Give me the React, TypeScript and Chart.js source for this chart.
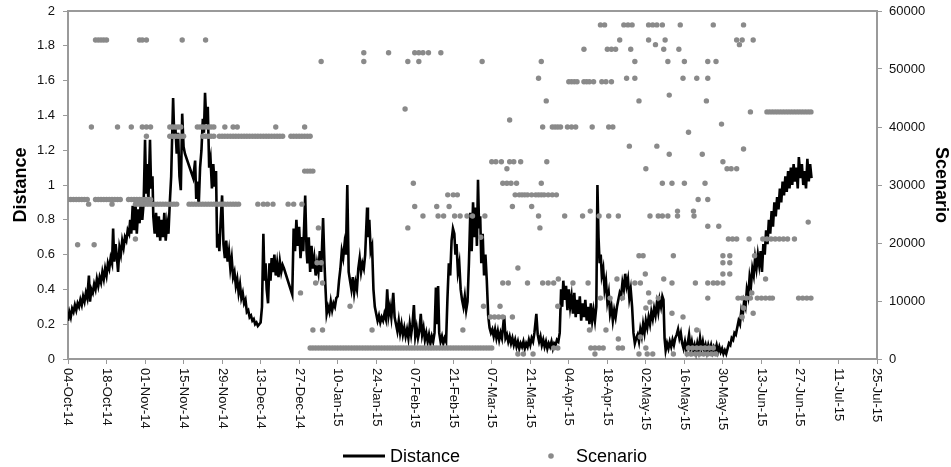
import React, { useEffect, useRef } from 'react';
import { Chart, registerables } from 'chart.js';

Chart.register(...registerables);

const FONT = '"Liberation Sans", Arial, Helvetica, sans-serif';
const AXIS = '#9a9a9a';
const DOT = '#8a8a8a';

// x axis: days since 04-Oct-14, ticks every 14 days
const xTickLabels = [
  '04-Oct-14', '18-Oct-14', '01-Nov-14', '15-Nov-14', '29-Nov-14', '13-Dec-14', '27-Dec-14',
  '10-Jan-15', '24-Jan-15', '07-Feb-15', '21-Feb-15', '07-Mar-15', '21-Mar-15', '04-Apr-15',
  '18-Apr-15', '02-May-15', '16-May-15', '30-May-15', '13-Jun-15', '27-Jun-15', '11-Jul-15', '25-Jul-15',
];
const xStepDays = 14;

const leftTitle = 'Distance';
const rightTitle = 'Scenario';
const seriesNames = ['Distance', 'Scenario'];

// Distance series: [day, distance]
const distancePoints: [number, number][] = [
  [0,0.22],[0.5,0.27],[1,0.24],[1.5,0.29],[2,0.27],[2.5,0.31],[3,0.28],[3.5,0.32],[4,0.30],[4.5,0.34],
  [5,0.31],[5.5,0.36],[6,0.33],[6.5,0.38],[7,0.35],[7.6,0.48],[8,0.33],[8.5,0.40],[9,0.38],[9.5,0.43],
  [10,0.40],[10.5,0.46],[11,0.42],[11.5,0.47],[12,0.44],[12.5,0.50],[13,0.46],[13.5,0.52],[14,0.48],[14.5,0.55],
  [15,0.52],[15.5,0.58],[16,0.55],[16.4,0.75],[16.8,0.56],[17.3,0.66],[17.8,0.58],[18.2,0.50],[18.7,0.64],[19.2,0.60],
  [19.7,0.68],[20.2,0.64],[20.7,0.70],[21.2,0.68],[21.7,0.74],[22.2,0.72],[22.6,0.80],
  [23,0.72],[23.5,0.88],[24,0.74],[24.5,0.90],[25,0.72],[25.5,0.86],[26,0.78],[26.5,0.92],[27,0.80],[27.5,0.90],
  [28,1.26],[28.4,0.95],[28.8,1.12],[29.2,0.90],[29.8,1.26],[30.2,0.98],[30.7,1.05],[31,0.82],[31.5,0.72],[32,0.84],
  [32.5,0.70],[33,0.82],[33.5,0.68],[34,0.80],[34.5,0.70],[35,0.84],[35.5,0.68],[36,0.78],[36.5,0.72],[37,0.90],
  [37.5,1.05],[38.2,1.50],[38.6,1.28],[39,1.34],[39.5,1.18],[40,1.30],[40.5,1.05],[41,0.97],[41.5,1.41],[42,1.22],
  [42.5,1.18],[45.5,1.04],[46.2,1.14],[46.6,0.92],[47,1.02],[47.5,0.88],[48,1.10],[48.5,1.20],[49,1.38],[49.4,1.30],
  [49.8,1.53],[50.3,1.35],[50.8,1.45],[51.3,1.10],[51.8,1.15],[52.3,0.98],[52.8,1.12],[53.3,0.99],[53.8,1.08],[54.2,0.64],
  [54.6,0.72],[55,0.62],[55.5,0.80],[56,0.94],[56.5,0.66],[57,0.58],[57.5,0.68],[58,0.56],[58.5,0.62],[59,0.52],
  [59.5,0.58],[60,0.47],[60.5,0.50],[61,0.42],[61.5,0.46],[62,0.38],[62.5,0.43],[63,0.35],[63.5,0.38],[64,0.32],
  [64.5,0.34],[65,0.27],[65.5,0.28],[66,0.24],[66.5,0.25],[67,0.22],[67.5,0.23],[68,0.20],[68.5,0.21],[69,0.19],
  [69.5,0.20],[70,0.21],[70.5,0.30],[71,0.72],[71.4,0.45],[71.8,0.55],[72.2,0.40],[72.7,0.32],[73.2,0.55],[73.6,0.45],
  [74,0.58],[74.5,0.50],[75,0.60],[75.5,0.48],[76,0.55],[76.5,0.47],[77,0.56],[77.5,0.50],[78,0.54],[78.5,0.52],
  [81.5,0.37],[82,0.75],[82.5,0.62],[83,0.80],[83.5,0.65],[84,0.76],[84.5,0.58],[85,0.70],[85.5,0.62],[86.2,0.94],
  [86.7,0.62],[87,0.55],[87.5,0.70],[88,0.50],[88.5,0.65],[89,0.52],[89.5,0.58],[90,0.48],[90.5,0.55],[91,0.50],
  [91.5,0.62],[92,0.50],[92.7,0.81],[93.2,0.55],[93.6,0.40],[94,0.26],[94.5,0.30],[95,0.27],[95.5,0.33],[96,0.28],
  [96.5,0.32],[97,0.30],[97.5,0.35],[98,0.36],[98.5,0.45],[99,0.52],[99.5,0.62],[100,0.58],[100.5,0.66],[101,0.60],
  [101.5,1.00],[102,0.50],[102.5,0.45],[103,0.40],[103.5,0.47],[104,0.38],[104.5,0.44],[105,0.40],[105.5,0.52],[106,0.58],
  [106.5,0.50],[107,0.55],[107.5,0.52],[108,0.60],[108.7,0.87],[109,0.70],[109.5,0.80],[110,0.62],[110.5,0.65],[111,0.40],
  [111.5,0.30],[112,0.26],[112.5,0.22],[113,0.25],[113.5,0.21],[114,0.24],[114.5,0.22],[115,0.26],[115.5,0.23],[116,0.40],
  [116.5,0.25],[117,0.30],[117.5,0.24],[118.2,0.38],[118.7,0.24],[119.2,0.20],[119.7,0.16],[120.2,0.22],[120.7,0.15],[121.2,0.20],
  [121.7,0.14],[122.2,0.18],[122.7,0.13],[123.2,0.17],[123.7,0.12],[124.2,0.20],[124.7,0.14],[125.2,0.20],[125.7,0.31],[126.2,0.13],
  [126.7,0.18],[127.2,0.12],[127.7,0.16],[128.2,0.26],[128.7,0.14],[129.2,0.18],[129.7,0.11],[130.2,0.15],[130.7,0.10],[131.2,0.14],
  [131.7,0.09],[132.2,0.13],[132.7,0.10],[133.2,0.15],[133.7,0.41],[134.1,0.20],[134.5,0.42],[134.9,0.15],[135.4,0.10],[135.9,0.13],
  [136.4,0.09],[136.9,0.12],[137.4,0.10],[137.9,0.35],[138.4,0.55],[138.9,0.48],[139.4,0.68],[139.9,0.75],[140.4,0.72],[140.8,0.60],
  [141.2,0.66],[141.7,0.50],[142.2,0.55],[142.7,0.40],[143.2,0.34],[143.7,0.30],[144.2,0.36],[144.7,0.28],[145.2,0.33],[145.7,0.55],
  [146.2,0.84],[146.7,0.62],[147.2,0.90],[147.7,0.70],[148.2,0.87],[148.6,0.65],[149,1.03],[149.4,0.75],[149.8,0.82],[150.2,0.55],
  [150.7,0.72],[151.2,0.48],[151.7,0.60],[152.2,0.45],[152.7,0.25],[153.2,0.18],[153.7,0.15],[154.2,0.17],[154.7,0.13],[155.2,0.17],
  [155.7,0.12],[156.2,0.16],[156.7,0.11],[157.2,0.15],[157.7,0.12],[158.5,0.25],[159,0.12],[159.5,0.14],[160,0.10],[160.5,0.13],
  [161,0.09],[161.5,0.12],[162,0.08],[162.5,0.11],[163,0.07],[163.5,0.10],[164,0.06],[164.5,0.09],[165,0.07],[165.5,0.10],
  [166,0.06],[166.5,0.09],[167,0.07],[167.5,0.11],[168,0.08],[168.5,0.12],[169,0.10],[169.5,0.15],[170.2,0.26],[170.7,0.14],
  [171.2,0.10],[171.7,0.13],[172.2,0.08],[172.7,0.11],[173.2,0.07],[173.7,0.10],[174.2,0.06],[174.7,0.09],[175.2,0.07],[175.7,0.10],
  [176.2,0.06],[176.7,0.09],[177.2,0.08],[177.7,0.11],[178.2,0.10],[178.7,0.15],[179.2,0.40],[179.6,0.30],[180,0.45],[180.5,0.34],
  [181,0.42],[181.5,0.28],[182,0.40],[182.5,0.30],[183,0.36],[183.5,0.26],[184,0.38],[184.5,0.24],[185,0.34],[185.5,0.26],
  [186,0.36],[186.5,0.22],[187,0.32],[187.5,0.24],[188,0.34],[188.5,0.22],[189,0.30],[189.5,0.20],[190,0.32],[190.5,0.22],
  [191,0.28],[191.5,0.22],[192,0.30],[192.4,1.00],[192.8,0.70],[193.2,0.55],[193.6,0.60],[194,0.48],[194.5,0.52],[195,0.40],
  [195.5,0.45],[196,0.33],[196.5,0.38],[197,0.26],[197.5,0.30],[198,0.22],[198.5,0.28],[199,0.24],[199.5,0.30],[200,0.34],
  [200.5,0.38],[201,0.36],[201.5,0.44],[202,0.40],[202.5,0.49],[203,0.42],[203.5,0.46],[204,0.35],[204.5,0.40],[205,0.30],
  [205.5,0.15],[206,0.09],[206.5,0.12],[207,0.14],[207.5,0.10],[208,0.17],[208.5,0.13],[209,0.20],[209.5,0.15],[210,0.22],
  [210.5,0.18],[211,0.24],[211.5,0.20],[212,0.27],[212.5,0.23],[213,0.29],[213.5,0.25],[214,0.32],[214.5,0.27],[215,0.34],
  [215.5,0.30],[216,0.36],[216.4,0.34],[216.8,0.12],[217.2,0.05],[217.7,0.09],[218.2,0.06],[218.7,0.10],[219.2,0.07],[219.7,0.11],
  [220.2,0.08],[220.7,0.12],[221.2,0.14],[221.7,0.17],[222.2,0.12],[222.7,0.15],[223.2,0.09],[223.7,0.06],[224.2,0.10],[224.7,0.05],
  [225.2,0.09],[225.7,0.14],[226.2,0.06],[226.7,0.10],[227.2,0.05],[227.7,0.08],[228.2,0.04],[228.7,0.09],[229.2,0.05],[229.7,0.12],
  [230.2,0.06],[230.7,0.10],[231.2,0.05],[231.7,0.08],[232.2,0.04],[232.7,0.08],[233.2,0.05],[233.7,0.08],[234.2,0.04],[234.7,0.07],
  [235.2,0.05],[235.7,0.08],[236.2,0.04],[236.7,0.07],[237.2,0.04],[237.7,0.06],[238.2,0.03],[238.7,0.05],[239.2,0.03],[239.7,0.06],
  [240.2,0.09],[240.7,0.08],[241.2,0.12],[241.7,0.11],[242.2,0.15],[242.7,0.14],[243.2,0.18],[243.7,0.22],[244.2,0.20],[244.7,0.28],
  [245.2,0.25],[245.7,0.33],[246.2,0.30],[246.7,0.40],[247.2,0.36],[247.7,0.47],[248.2,0.42],[248.7,0.52],[249.2,0.48],[249.7,0.58],
  [250.2,0.52],[250.7,0.60],[251.2,0.54],[251.7,0.62],[252.2,0.50],[252.7,0.66],[253.2,0.60],[253.7,0.74],[254.2,0.66],[254.7,0.80],
  [255.2,0.72],[255.7,0.85],[256.2,0.76],[256.7,0.90],[257.2,0.82],[257.7,0.93],[258.2,0.86],[258.7,0.98],[259.2,0.90],[259.7,1.02],
  [260.2,0.94],[260.7,1.05],[261.2,0.96],[261.7,1.08],[262.2,0.98],[262.7,1.10],[263.2,1.00],[263.7,1.12],[264.2,1.02],[264.7,1.10],
  [265.2,0.98],[265.6,1.16],[266.2,1.04],[266.7,1.12],[267.2,1.00],[267.7,1.08],[268.2,0.98],[268.7,1.15],[269.2,1.02],[269.7,1.12],
  [270.2,1.04],
];

// Scenario series: [scenario value, days on which it occurs]
const scenarioRows: [number, number[]][] = [
  [57600, [193.5,195,202,203.5,205,211,212.5,214,216,222.5,234.5,245.5]],
  [55000, [10,11,12,13,14,26,27,28.5,41.5,50,200.5,211,217,243,245,249]],
  [54200, [213.5,244]],
  [53400, [187.5,196,197.5,199,204.5,216.5,222]],
  [52800, [107.5,116.5,126,127.5,129,131,135.5]],
  [51300, [92,107.5,123.5,127.5,150.5,172,206,218,224,232.5,235.5]],
  [48400, [171,203,206,223.5,228.5,232.5]],
  [47800, [182,183,184,185,187.5,188.5,189.5,191,194,195.5,197.5]],
  [45500, [218.5]],
  [44500, [173.8,207.5,232]],
  [43100, [122.5]],
  [42600, [248,254,255,256,257,258,259,260,261,262,263,264,265,266,267,268,269,270]],
  [41200, [160.5]],
  [40500, [237.5]],
  [40000, [8.5,18,23,27,28.5,30,37,38,39,40,41,47,48,49,50,51,52,53,57,60,61.5,75.5,86,172.5,176,177,178,179,181.5,183,184.5,190.5,196.5,198]],
  [39100, [225.5]],
  [38400, [28.5,37,38,39,40,41,42,49,50,51,52,53,55,56,57,58,59,60,61,62,63,64,65,66,67,68,69,70,71,72,73,74,75,76,77,78,81,82,83,84,85,86,87,88]],
  [36700, [204,214]],
  [36200, [245.5]],
  [35300, [218.5,230.5]],
  [34000, [154,155.5,157.5,160.5,162,164.5,174,238]],
  [32800, [159.5,210,239.5,241,243]],
  [32400, [86,87,88,89]],
  [30300, [125.5,158,159.5,161,163,172,216,219.5,224,231.5]],
  [28300, [138,140,141.5,162.5,164,165,166,167,168.5,170,171,172,173,174.5,176,177.5]],
  [27500, [0,1,2,3,4,5,6,7,10,11,12,13,14,15,16,17,18,19,22,23,24,25,26,27,28,29,30,229,232.5]],
  [26700, [7.5,16,24.5,25.5,26.5,27.5,28.5,29.5,30.5,31.5,32.5,33.5,34.5,35.5,36.5,37.5,38.5,39.5,44,45,46,47,48,49,50,51,52,53,54,55,56,57,58,59,60,61,62,69,71,72.5,74.5,80,82,85]],
  [26300, [126,134,138.5,161.5,168.5]],
  [25500, [189.8,221.5,227.3]],
  [24650, [129,134.5,136.5,140.5,142.5,145,147,151.5,171,180.5,187,193,196.5,200,211.5,214.5,216,218,221.5,227.5]],
  [23600, [269]],
  [22900, [232.5,236.5]],
  [22600, [91,123.5,171.5]],
  [21000, [150]],
  [20700, [24.5,240,241.5,243,247.5,252.5,254,255.5,257,258.5,260,261.5,264]],
  [19700, [3.5,9.5]],
  [17800, [207.5,209,220,238,240.5,249.5]],
  [16600, [90.5,92,238,240.5]],
  [15700, [163.5]],
  [14650, [209.8,238,240.5]],
  [13800, [178.2,199.5,216.5,253.5]],
  [13100, [90,92.5,158,160,167,172.5,174.5,176.5,183.5,189,206,208,219.5,228,232.5,234.5,236,238]],
  [11400, [84.5,211,248.5]],
  [10500, [193.5,197,201.5,214.5,232.5,243.5,245,246.5,248,250.5,252,253.5,255,256,265.5,267,268.5,270]],
  [9800, [211.5]],
  [9100, [102.5,151,157,178]],
  [8800, [210,245.5]],
  [7900, [219.5,249]],
  [7240, [153.5,155,156.5,158,161.5,223.5,245]],
  [5000, [89,92.5,110.5,143.5,189.5,195.5,228.5]],
  [3800, [208]],
  [3450, [200]],
  [1900, [88,89,90,91,92,93,94,95,96,97,98,99,100,101,102,103,104,105,106,107,108,109,110,111,112,113,114,115,116,117,118,119,120,121,122,123,124,125,126,127,128,129,130,131,132,133,134,135,136,137,138,139,140,141,142,143,144,145,146,147,148,149,150,151,152,153,154,176.5,178,190,191.5,193,194.5,200,201.5,210,225.5,227,228.5,230,231.5,233,234.5]],
  [860, [163.5,165.5,169,191.5,207.5,210.5,212.5,220,225,226.5,228,229.5,231,232.5,234,235.5]],
];

const distanceMax = 2;
const distanceStep = 0.2;
const scenarioMax = 60000;
const scenarioStep = 10000;

const decorPlugin = {
  id: 'decor',
  afterDraw(chart: any) {
    const { ctx, chartArea: a, scales } = chart;
    const xs = scales.x;
    ctx.save();
    // top frame line
    ctx.strokeStyle = AXIS;
    ctx.lineWidth = 2;
    ctx.beginPath();
    ctx.moveTo(a.left - 1, a.top);
    ctx.lineTo(a.right + 1, a.top);
    ctx.stroke();

    // x tick labels, rotated to read top-to-bottom
    ctx.fillStyle = '#111';
    ctx.font = `13px ${FONT}`;
    ctx.textAlign = 'left';
    ctx.textBaseline = 'middle';
    xTickLabels.forEach((lab, i) => {
      const px = xs.getPixelForValue(i * xStepDays);
      ctx.save();
      ctx.translate(px, a.bottom + 9);
      ctx.rotate(Math.PI / 2);
      ctx.fillText(lab, 0, 0);
      ctx.restore();
    });

    // axis titles
    ctx.fillStyle = '#000';
    ctx.font = `bold 18px ${FONT}`;
    ctx.textAlign = 'center';
    const midY = (a.top + a.bottom) / 2;
    ctx.save();
    ctx.translate(21, midY);
    ctx.rotate(-Math.PI / 2);
    ctx.fillText(leftTitle, 0, 0);
    ctx.restore();
    ctx.save();
    ctx.translate(941, midY);
    ctx.rotate(Math.PI / 2);
    ctx.fillText(rightTitle, 0, 0);
    ctx.restore();

    // legend
    const ly = 456;
    ctx.strokeStyle = '#000';
    ctx.lineWidth = 3;
    ctx.beginPath();
    ctx.moveTo(343, ly);
    ctx.lineTo(385, ly);
    ctx.stroke();
    ctx.font = `18px ${FONT}`;
    ctx.textAlign = 'left';
    ctx.fillStyle = '#000';
    ctx.fillText(seriesNames[0], 390, ly + 1);
    ctx.fillStyle = DOT;
    ctx.beginPath();
    ctx.arc(551, ly, 2.8, 0, Math.PI * 2);
    ctx.fill();
    ctx.fillStyle = '#000';
    ctx.fillText(seriesNames[1], 576, ly + 1);
    ctx.restore();
  },
};

const fitVertical = (width: number) => (s: any) => {
  s.width = width;
  s.paddingTop = 2;
  s.paddingBottom = 2;
};

export default function App() {
  const ref = useRef<HTMLCanvasElement>(null);
  useEffect(() => {
    const canvas = ref.current;
    if (!canvas) return;
    const scenarioData: { x: number; y: number }[] = [];
    scenarioRows.forEach(([v, days]) => days.forEach((d) => scenarioData.push({ x: d, y: v })));
    const chart = new Chart(canvas, {
      type: 'scatter',
      data: {
        datasets: [
          {
            type: 'scatter',
            label: seriesNames[1],
            data: scenarioData,
            yAxisID: 'y1',
            backgroundColor: DOT,
            borderWidth: 0,
            pointRadius: 2.7,
            order: 0,
          } as any,
          {
            type: 'line',
            label: seriesNames[0],
            data: distancePoints.map(([x, y]) => ({ x, y })),
            yAxisID: 'y',
            borderColor: '#000',
            borderWidth: 2.6,
            pointRadius: 0,
            tension: 0,
            fill: false,
            order: 1,
          } as any,
        ],
      },
      options: {
        animation: false,
        responsive: false,
        maintainAspectRatio: false,
        layout: { padding: { top: 11, left: 0, right: 0, bottom: 0 } },
        plugins: { legend: { display: false }, tooltip: { enabled: false } },
        scales: {
          x: {
            type: 'linear',
            min: 0,
            max: (xTickLabels.length - 1) * xStepDays,
            ticks: { display: false, stepSize: xStepDays },
            grid: { drawOnChartArea: false, drawTicks: true, tickLength: 5, color: AXIS, lineWidth: 1 },
            border: { color: AXIS, width: 2 },
            afterFit: (s: any) => { s.height = 108; s.paddingLeft = 0; s.paddingRight = 0; },
          },
          y: {
            type: 'linear',
            position: 'left',
            min: 0,
            max: distanceMax,
            ticks: {
              stepSize: distanceStep,
              padding: 8,
              color: '#111',
              font: { family: FONT, size: 13 },
              callback: (v: any) => String(Number(Number(v).toFixed(1))),
            },
            grid: { drawOnChartArea: false, drawTicks: true, tickLength: 5, color: AXIS },
            border: { color: AXIS, width: 2 },
            afterFit: fitVertical(68),
          },
          y1: {
            type: 'linear',
            position: 'right',
            min: 0,
            max: scenarioMax,
            ticks: {
              stepSize: scenarioStep,
              padding: 7,
              color: '#111',
              font: { family: FONT, size: 13 },
              callback: (v: any) => String(v),
            },
            grid: { drawOnChartArea: false, drawTicks: true, tickLength: 5, color: AXIS },
            border: { color: AXIS, width: 2 },
            afterFit: fitVertical(74),
          },
        },
      },
      plugins: [decorPlugin],
    });
    return () => chart.destroy();
  }, []);
  return (
    <div style={{ position: 'fixed', left: 0, top: 0, width: 951, height: 467, background: '#fff' }}>
      <canvas ref={ref} width={951} height={467} style={{ display: 'block', width: 951, height: 467 }} />
    </div>
  );
}
